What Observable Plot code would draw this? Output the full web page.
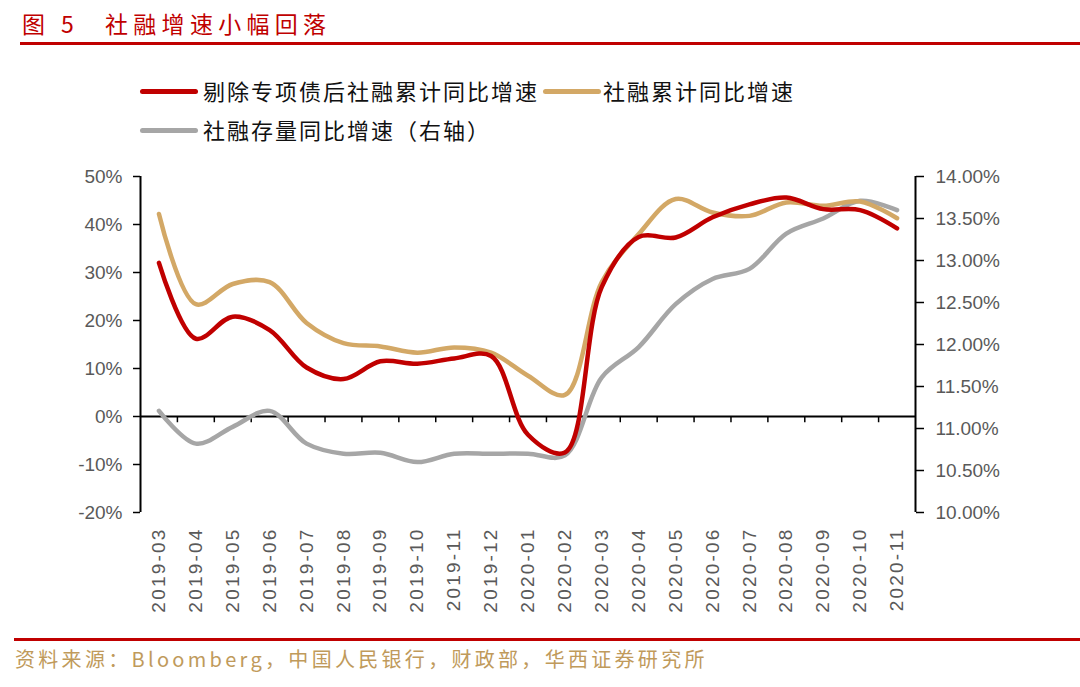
<!DOCTYPE html>
<html>
<head>
<meta charset="utf-8">
<script src="https://cdn.jsdelivr.net/npm/d3@7"></script>
<script src="https://cdn.jsdelivr.net/npm/@observablehq/plot@0.6"></script>
<style>
  html, body { margin: 0; padding: 0; background: #fff; }
  #wrap { position: relative; width: 1080px; height: 687px; overflow: hidden; font-family: "Noto Sans CJK SC", "Noto Sans", sans-serif; }
  .abs { position: absolute; white-space: nowrap; }
  .title { color: #C00000; font-size: 23px; line-height: 1; top: 12px; letter-spacing: 5.3px; }
  .hline { position: absolute; height: 3px; background: #C00000; }
  .leg { font-size: 22px; line-height: 1; color: #111; letter-spacing: 2px; }
  .sw { position: absolute; height: 5px; border-radius: 3px; }
  .src { color: #C09A5B; font-size: 20px; line-height: 1; top: 649px; left: 15px; letter-spacing: 3.3px; }
  #chart { position: absolute; left: 0; top: 150px; }
  #chart g[aria-label="x-axis tick label"] text { letter-spacing: 2.2px; }
</style>
</head>
<body>
<div id="wrap">
  <div class="abs title" style="left:22px">图</div>
  <div class="abs title" style="left:61px">5</div>
  <div class="abs title" style="left:105px">社融增速小幅回落</div>
  <div class="hline" style="left:20px; top:42px; width:1060px"></div>

  <div id="legend"></div>

  <div id="chart"></div>

  <div class="hline" style="left:14px; top:638px; width:1066px"></div>
  <div class="abs src">资料来源：Bloomberg，中国人民银行，财政部，华西证券研究所</div>
</div>
<script>
// ---- data ----
const months = ["2019-03","2019-04","2019-05","2019-06","2019-07","2019-08","2019-09","2019-10","2019-11","2019-12",
                "2020-01","2020-02","2020-03","2020-04","2020-05","2020-06","2020-07","2020-08","2020-09","2020-10","2020-11"];
const exSpecialGrowth = [32, 16.2, 20.8, 18, 10.2, 7.8, 11.5, 11, 12.1, 12.6, -3.8, -7.5, 27, 37.4, 37.3, 41.5, 44.2, 45.6, 43.2, 43, 39.2];
const tsfFlowGrowth   = [42.2, 23.4, 27.6, 28, 19.5, 15.3, 14.6, 13.3, 14.4, 13.3, 8.5, 4.5, 28, 38, 45.3, 42.5, 41.8, 44.6, 43.9, 44.8, 41.3];
const tsfStockGrowth  = [11.21, 10.82, 11.02, 11.21, 10.82, 10.70, 10.71, 10.60, 10.70, 10.70, 10.70, 10.68, 11.61, 11.97, 12.48, 12.78, 12.90, 13.32, 13.50, 13.71, 13.60];
const leftTicks = [-20, -10, 0, 10, 20, 30, 40, 50];
const rightTicks = [10, 10.5, 11, 11.5, 12, 12.5, 13, 13.5, 14];
const seriesNames = ["剔除专项债后社融累计同比增速", "社融累计同比增速", "社融存量同比增速（右轴）"];
const seriesColors = ["#C00000", "#D3A866", "#A6A6A6"];

// right axis [10,14] mapped onto left axis [-20,50]
const toLeft = r => -20 + (r - 10) * 17.5;
const toRight = l => (l + 20) / 17.5 + 10;

// ---- legend ----
const legendItems = [
  {name: seriesNames[0], color: seriesColors[0], sx: 140, tx: 203, y: 91},
  {name: seriesNames[1], color: seriesColors[1], sx: 543, tx: 603, y: 91},
  {name: seriesNames[2], color: seriesColors[2], sx: 140, tx: 203, y: 130}
];
const legend = document.getElementById("legend");
for (const it of legendItems) {
  const sw = document.createElement("div");
  sw.className = "sw";
  sw.style.cssText = `left:${it.sx}px; top:${it.y - 2.5}px; width:58px; background:${it.color}`;
  legend.appendChild(sw);
  const t = document.createElement("div");
  t.className = "abs leg";
  t.style.cssText = `left:${it.tx}px; top:${it.y - 12}px`;
  t.textContent = it.name;
  legend.appendChild(t);
}

// ---- chart ----
const rows = [];
months.forEach((m, i) => {
  rows.push({month: m, value: exSpecialGrowth[i], series: seriesNames[0]});
  rows.push({month: m, value: tsfFlowGrowth[i], series: seriesNames[1]});
  rows.push({month: m, value: toLeft(tsfStockGrowth[i]), series: seriesNames[2]});
});

const W = 1080, H = 480;
const mL = 140, mR = 165, mT = 26, mB = 118;
const half = (W - mL - mR) / months.length / 2;

const chart = Plot.plot({
  width: W, height: H,
  marginLeft: mL, marginRight: mR, marginTop: mT, marginBottom: mB,
  style: {fontFamily: "'Liberation Sans', Arial, sans-serif", fontSize: "19px", color: "#595959", background: "transparent"},
  x: {type: "band", domain: months, padding: 0, round: false},
  y: {domain: [-20, 50]},
  color: {domain: seriesNames, range: seriesColors},
  marks: [
    Plot.axisX({tickSize: 0, tickPadding: 15, tickRotate: -90, fill: "#595959", fontSize: 19, label: null}),
    Plot.axisY({ticks: leftTicks, tickSize: 7, tickPadding: 11, tickFormat: d => d + "%", stroke: "#000", strokeWidth: 1.5, fill: "#595959", fontSize: 19, label: null}),
    Plot.axisY(rightTicks.map(toLeft), {anchor: "right", tickSize: 8, tickPadding: 12, tickFormat: d => toRight(d).toFixed(2) + "%", stroke: "#000", strokeWidth: 1.5, fill: "#595959", fontSize: 19, label: null}),
    // axis lines
    Plot.ruleX([months[0]], {y1: -20, y2: 50, dx: -half, stroke: "#000", strokeWidth: 2}),
    Plot.ruleX([months[months.length - 1]], {y1: -20, y2: 50, dx: half, stroke: "#000", strokeWidth: 2}),
    Plot.ruleY([0], {stroke: "#000", strokeWidth: 2}),
    // category boundary ticks on the zero line
    Plot.ruleX(months.slice(0, -1), {y1: 0, y2: -1.3, dx: half, stroke: "#000", strokeWidth: 1.5}),
    // series
    Plot.line(rows.filter(d => d.series === seriesNames[2]), {x: "month", y: "value", stroke: "series", strokeWidth: 4.5, curve: "catmull-rom"}),
    Plot.line(rows.filter(d => d.series === seriesNames[1]), {x: "month", y: "value", stroke: "series", strokeWidth: 4.5, curve: "catmull-rom"}),
    Plot.line(rows.filter(d => d.series === seriesNames[0]), {x: "month", y: "value", stroke: "series", strokeWidth: 4.5, curve: "catmull-rom"})
  ]
});
document.getElementById("chart").appendChild(chart);
</script>
</body>
</html>
